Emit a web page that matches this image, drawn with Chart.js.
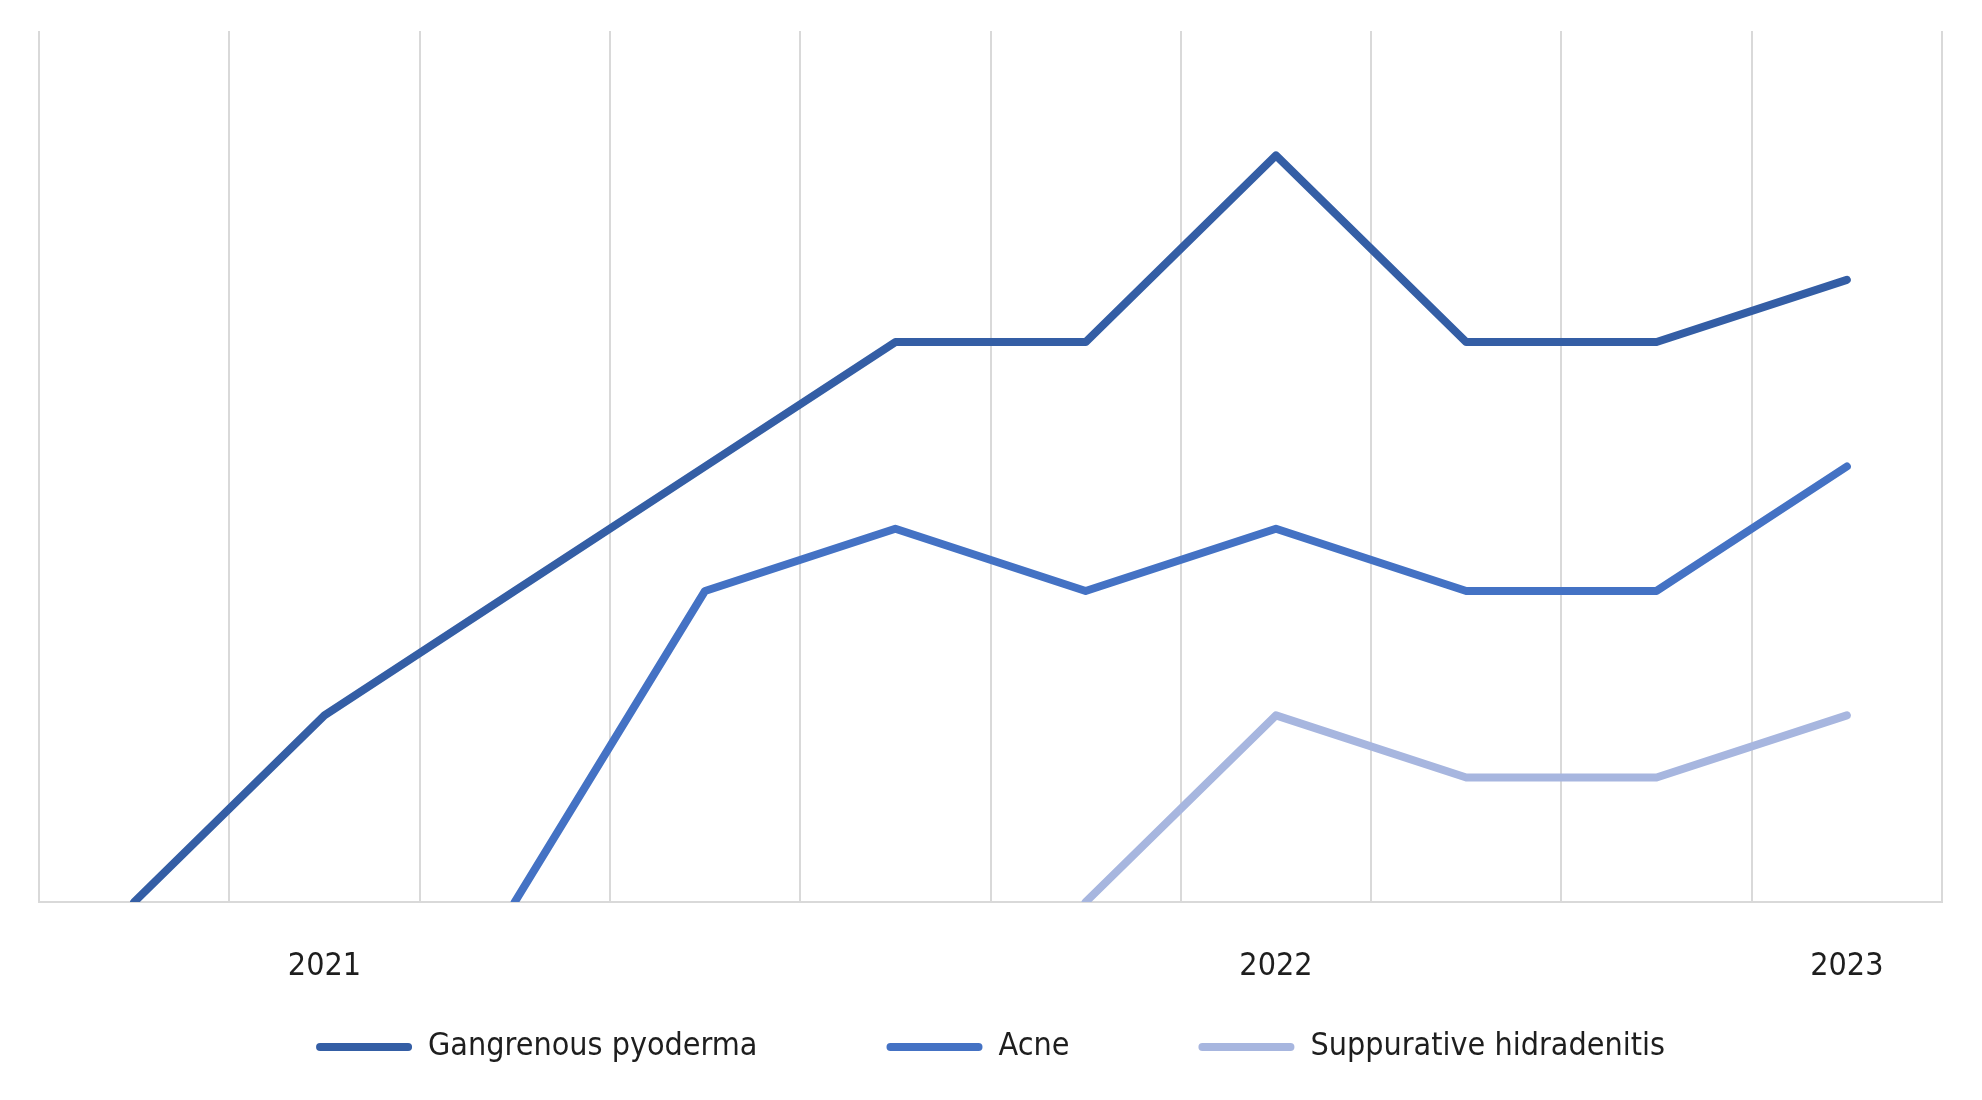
<!DOCTYPE html>
<html>
<head>
<meta charset="utf-8">
<script src="https://cdn.jsdelivr.net/npm/chart.js@4/dist/chart.umd.min.js"></script>
<style>
  html, body { margin: 0; padding: 0; background: #fff; }
  #wrap { width: 1982px; height: 1100px; }
</style>
</head>
<body>
<div id="wrap"><canvas id="myChart" width="1982" height="1100"></canvas></div>
<script>
const categories = ['', '2021', '', '', '', '', '2022', '', '', '2023'];
const gangrenousValues = [0, 3, 5, 7, 9, 9, 12, 9, 9, 10];
const acneValues = [null, null, 0, 5, 6, 5, 6, 5, 5, 7];
const hidradenitisValues = [null, null, null, null, null, 0, 3, 2, 2, 3];
const yMin = 0;
const yMax = 14;

const fontFamily = "'DejaVu Sans Condensed', 'DejaVu Sans', sans-serif";
const fontSize = 32;

// tick labels sit below a zero-height x axis, so let them draw outside its box
const labelRoom = {
  id: 'labelRoom',
  afterLayout: function(chart) {
    chart.scales.x.bottom = chart.height;
  }
};

const app = {
  init: function() {
    Chart.defaults.font.family = fontFamily;
    Chart.defaults.color = '#1e1e1e';
    this.initChart();
  },

  lineSet: function(label, color, data) {
    return {
      label: label,
      data: data,
      borderColor: color,
      backgroundColor: color,
      borderWidth: 8,
      borderCapStyle: 'round',
      borderJoinStyle: 'round',
      pointRadius: 0,
      pointHoverRadius: 0,
      tension: 0,
    };
  },

  initChart: function() {
    var ctx = document.getElementById('myChart').getContext('2d');

    var chart = new Chart(ctx, {
      type: 'line',
      data: {
        labels: categories,
        datasets: [
          this.lineSet('Gangrenous pyoderma', '#345EA5', gangrenousValues),
          this.lineSet('Acne', '#4472C4', acneValues),
          this.lineSet('Suppurative hidradenitis', '#A7B6DF', hidradenitisValues),
        ]
      },
      plugins: [labelRoom],
      options: {
        responsive: false,
        animation: false,
        layout: {
          padding: {left: 39, right: 40, top: 31, bottom: 27}
        },
        plugins: {
          tooltip: {enabled: false},
          legend: {
            position: 'bottom',
            labels: {
              boxWidth: 96,
              boxHeight: 8,
              useBorderRadius: true,
              borderRadius: 4,
              padding: 129,
              font: {size: fontSize},
              color: '#1e1e1e',
              generateLabels: function(chart) {
                return Chart.defaults.plugins.legend.labels.generateLabels(chart)
                  .map(item => Object.assign(item, {lineWidth: 0}));
              }
            }
          }
        },
        scales: {
          x: {
            offset: true,
            grid: {
              offset: true,
              color: '#d9d9d9',
              lineWidth: 2,
              drawTicks: false,
            },
            border: {color: '#d9d9d9', width: 2},
            ticks: {
              autoSkip: false,
              maxRotation: 0,
              padding: 45,
              font: {size: fontSize},
              color: '#1e1e1e',
            },
            afterFit: function(scale) {
              scale.height = 0;
            }
          },
          y: {
            display: false,
            min: yMin,
            max: yMax,
          }
        }
      }
    });
  }
};

app.init();
</script>
</body>
</html>
